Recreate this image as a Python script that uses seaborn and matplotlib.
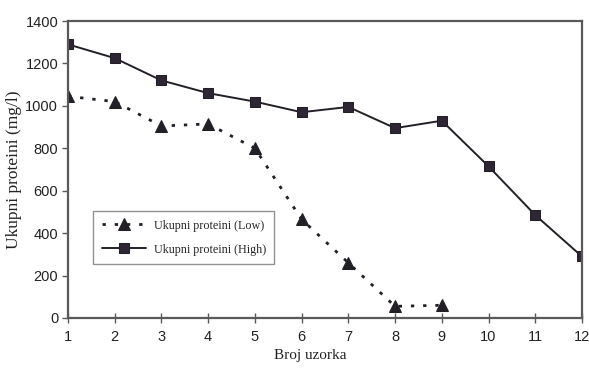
import matplotlib
matplotlib.use("Agg")
import matplotlib.pyplot as plt
import seaborn as sns
import pandas as pd

# Sample numbers and total protein concentrations (mg/l)
uzorak_low = [1, 2, 3, 4, 5, 6, 7, 8, 9]
protein_low = [1045, 1020, 905, 915, 800, 465, 260, 55, 60]
uzorak_high = [1, 2, 3, 4, 5, 6, 7, 8, 9, 10, 11, 12]
protein_high = [1290, 1225, 1120, 1060, 1020, 970, 995, 895, 930, 715, 485, 290]

label_low = "Ukupni proteini (Low)"
label_high = "Ukupni proteini (High)"
x_ticks = list(range(1, 13))
y_ticks = [0, 200, 400, 600, 800, 1000, 1200, 1400]

df_low = pd.DataFrame({"x": uzorak_low, "y": protein_low})
df_high = pd.DataFrame({"x": uzorak_high, "y": protein_high})

sns.set_style("white")
plt.rcParams["font.family"] = ["Liberation Sans", "DejaVu Sans"]

fig = plt.figure(figsize=(5.89, 3.72), dpi=100)
ax = fig.add_axes([0.1154, 0.1452, 0.8727, 0.7983])

line_col = "#231f26"
sns.lineplot(data=df_low, x="x", y="y", ax=ax, color=line_col,
             linestyle=(0, (1.2, 3.2)), linewidth=2.0, marker="^",
             markersize=8, markeredgecolor=line_col, markerfacecolor=line_col,
             label=label_low)
sns.lineplot(data=df_high, x="x", y="y", ax=ax, color=line_col,
             linestyle="-", linewidth=1.4, marker="s",
             markersize=7.5, markeredgecolor=line_col, markerfacecolor="#2e2535",
             label=label_high)

ax.set_xlim(1, 12)
ax.set_ylim(0, 1400)
ax.set_xticks(x_ticks)
ax.set_yticks(y_ticks)

spine_col = "#5a5a5a"
for s in ax.spines.values():
    s.set_color(spine_col)
    s.set_linewidth(1.6)

ax.tick_params(axis="x", direction="inout", length=7, width=1.0, color=spine_col,
               labelsize=10.5, pad=5, labelcolor="#222222")
ax.tick_params(axis="y", direction="out", length=4, width=1.0, color=spine_col,
               labelsize=10.5, pad=3, labelcolor="#222222")
ax.tick_params(left=True, bottom=True)

ax.set_xlabel("Broj uzorka", family=["Liberation Serif"], fontsize=11,
              color="#222222")
ax.xaxis.set_label_coords(0.471, -0.105)
ax.set_ylabel("Ukupni proteini (mg/l)", family=["Liberation Serif"], fontsize=12.5,
              color="#222222")
ax.yaxis.set_label_coords(-0.09, 0.5)

leg = ax.legend(loc="upper left", bbox_to_anchor=(0.049, 0.36), frameon=True,
                fancybox=False, prop={"family": "Liberation Serif", "size": 8.7},
                handlelength=3.7, borderpad=0.7, labelspacing=1.0,
                handletextpad=0.6, borderaxespad=0)
leg.get_frame().set_edgecolor("#777777")
leg.get_frame().set_linewidth(1.0)

fig.savefig("out.png", dpi=100, facecolor="white")
